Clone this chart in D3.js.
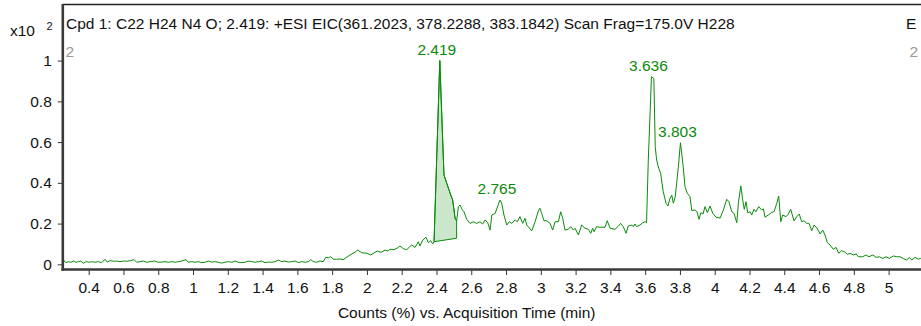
<!DOCTYPE html>
<html>
<head>
<meta charset="utf-8">
<script src="https://cdn.jsdelivr.net/npm/d3@7"></script>
<style>
  html, body { margin: 0; padding: 0; background: #fff; overflow: hidden; }
  svg { display: block; font-family: Arial, "Liberation Sans", sans-serif; }
</style>
</head>
<body>
<svg id="chart" width="921" height="326"></svg>
<script>
// Extracted ion chromatogram: retention time (min) and intensity (x10^2 counts %)
const retentionTime = [
  0.250, 0.258, 0.270, 0.283, 0.297, 0.312, 0.327, 0.340, 0.354, 0.369,
  0.385, 0.404, 0.417, 0.436, 0.455, 0.475, 0.494, 0.507, 0.523, 0.542,
  0.561, 0.580, 0.599, 0.619, 0.642, 0.661, 0.676, 0.695, 0.714, 0.734,
  0.753, 0.781, 0.800, 0.820, 0.839, 0.858, 0.878, 0.896, 0.915, 0.935,
  0.960, 0.973, 0.993, 1.012, 1.030, 1.050, 1.069, 1.088, 1.108, 1.127,
  1.145, 1.165, 1.184, 1.203, 1.223, 1.242, 1.260, 1.280, 1.299, 1.318,
  1.338, 1.357, 1.376, 1.395, 1.414, 1.433, 1.453, 1.472, 1.491, 1.510,
  1.529, 1.548, 1.568, 1.587, 1.606, 1.625, 1.644, 1.663, 1.677, 1.692,
  1.711, 1.730, 1.749, 1.763, 1.778, 1.792, 1.807, 1.826, 1.845, 1.864,
  1.903, 1.932, 1.947, 1.970, 1.999, 2.022, 2.041, 2.060, 2.081, 2.104,
  2.121, 2.133, 2.156, 2.173, 2.190, 2.209, 2.229, 2.245, 2.258, 2.277,
  2.296, 2.305, 2.321, 2.340, 2.353, 2.367, 2.378, 2.386, 2.419, 2.443,
  2.459, 2.482, 2.493, 2.507, 2.516, 2.526, 2.535, 2.549, 2.558, 2.574,
  2.593, 2.612, 2.631, 2.650, 2.666, 2.679, 2.695, 2.708, 2.718, 2.737,
  2.765, 2.775, 2.788, 2.804, 2.819, 2.833, 2.852, 2.865, 2.880, 2.896,
  2.909, 2.919, 2.948, 2.967, 2.986, 2.995, 3.005, 3.018, 3.034, 3.053,
  3.068, 3.082, 3.101, 3.114, 3.126, 3.139, 3.158, 3.172, 3.187, 3.197,
  3.216, 3.235, 3.254, 3.273, 3.287, 3.298, 3.306, 3.321, 3.340, 3.369,
  3.382, 3.398, 3.427, 3.446, 3.459, 3.474, 3.490, 3.503, 3.523, 3.532,
  3.542, 3.551, 3.570, 3.586, 3.601, 3.608, 3.618, 3.629, 3.636, 3.650,
  3.658, 3.666, 3.678, 3.689, 3.704, 3.720, 3.731, 3.743, 3.753, 3.762,
  3.773, 3.791, 3.803, 3.819, 3.829, 3.842, 3.858, 3.868, 3.887, 3.898,
  3.910, 3.920, 3.933, 3.944, 3.958, 3.973, 3.989, 4.008, 4.031, 4.050,
  4.069, 4.082, 4.098, 4.111, 4.127, 4.136, 4.150, 4.161, 4.170, 4.180,
  4.190, 4.203, 4.213, 4.226, 4.237, 4.253, 4.270, 4.280, 4.289, 4.308,
  4.328, 4.341, 4.357, 4.368, 4.380, 4.391, 4.410, 4.423, 4.437, 4.456,
  4.472, 4.486, 4.500, 4.513, 4.529, 4.542, 4.558, 4.571, 4.587, 4.606,
  4.621, 4.634, 4.648, 4.663, 4.682, 4.698, 4.713, 4.730, 4.749, 4.763,
  4.778, 4.797, 4.813, 4.826, 4.851, 4.870, 4.887, 4.909, 4.928, 4.947,
  4.966, 4.985, 5.004, 5.027, 5.047, 5.066, 5.084, 5.104, 5.119, 5.133,
  5.152, 5.171, 5.184, 5.200
];
const intensity = [
  0.000, 0.018, 0.008, 0.013, 0.010, 0.016, 0.010, 0.013, 0.016, 0.005,
  0.013, 0.010, 0.013, 0.010, 0.013, 0.008, 0.025, 0.011, 0.018, 0.015,
  0.016, 0.013, 0.016, 0.015, 0.018, 0.023, 0.010, 0.013, 0.016, 0.010,
  0.013, 0.016, 0.010, 0.011, 0.013, 0.010, 0.013, 0.010, 0.013, 0.016,
  0.023, 0.010, 0.013, 0.010, 0.013, 0.008, 0.010, 0.016, 0.011, 0.013,
  0.010, 0.006, 0.010, 0.013, 0.010, 0.016, 0.010, 0.008, 0.010, 0.016,
  0.013, 0.010, 0.013, 0.016, 0.008, 0.011, 0.010, 0.013, 0.021, 0.013,
  0.016, 0.011, 0.013, 0.016, 0.008, 0.013, 0.010, 0.013, 0.023, 0.013,
  0.010, 0.016, 0.013, 0.034, 0.032, 0.037, 0.025, 0.025, 0.026, 0.023,
  0.046, 0.060, 0.070, 0.057, 0.054, 0.046, 0.056, 0.065, 0.059, 0.070,
  0.065, 0.074, 0.072, 0.079, 0.090, 0.077, 0.072, 0.085, 0.095, 0.083,
  0.111, 0.090, 0.119, 0.133, 0.106, 0.116, 0.100, 0.111, 1.000, 0.439,
  0.398, 0.340, 0.316, 0.226, 0.213, 0.283, 0.291, 0.267, 0.258, 0.221,
  0.201, 0.209, 0.201, 0.209, 0.198, 0.218, 0.204, 0.168, 0.242, 0.250,
  0.315, 0.300, 0.242, 0.193, 0.209, 0.201, 0.218, 0.209, 0.234, 0.201,
  0.226, 0.193, 0.164, 0.209, 0.262, 0.275, 0.250, 0.214, 0.214, 0.201,
  0.168, 0.209, 0.209, 0.258, 0.226, 0.168, 0.172, 0.185, 0.168, 0.177,
  0.144, 0.193, 0.177, 0.172, 0.152, 0.177, 0.160, 0.185, 0.182, 0.182,
  0.214, 0.177, 0.172, 0.188, 0.201, 0.185, 0.152, 0.188, 0.193, 0.185,
  0.198, 0.185, 0.193, 0.204, 0.209, 0.204, 0.512, 0.758, 0.921, 0.912,
  0.578, 0.512, 0.472, 0.447, 0.357, 0.300, 0.286, 0.324, 0.340, 0.300,
  0.332, 0.479, 0.597, 0.479, 0.381, 0.349, 0.332, 0.263, 0.267, 0.258,
  0.221, 0.253, 0.247, 0.283, 0.253, 0.286, 0.250, 0.231, 0.227, 0.267,
  0.319, 0.307, 0.258, 0.250, 0.204, 0.300, 0.385, 0.316, 0.270, 0.307,
  0.253, 0.258, 0.242, 0.270, 0.258, 0.283, 0.267, 0.272, 0.231, 0.242,
  0.255, 0.258, 0.300, 0.335, 0.209, 0.242, 0.234, 0.246, 0.270, 0.213,
  0.234, 0.247, 0.209, 0.214, 0.201, 0.201, 0.165, 0.192, 0.180, 0.149,
  0.168, 0.144, 0.106, 0.095, 0.074, 0.083, 0.054, 0.067, 0.060, 0.049,
  0.054, 0.046, 0.051, 0.037, 0.037, 0.046, 0.037, 0.046, 0.034, 0.037,
  0.029, 0.037, 0.029, 0.041, 0.037, 0.037, 0.028, 0.021, 0.034, 0.021,
  0.034, 0.025, 0.029, 0.027
];

// Labelled peaks (retention time at apex)
const peakTimes = [2.419, 2.765, 3.636, 3.803];

// Integrated peak: start/end times and baseline intensities
const integrationTimes = [2.386, 2.516];
const integrationBase = [0.111, 0.128];

// Axis ticks
const xTicks = [0.4, 0.6, 0.8, 1, 1.2, 1.4, 1.6, 1.8, 2, 2.2, 2.4, 2.6, 2.8, 3, 3.2, 3.4, 3.6, 3.8, 4, 4.2, 4.4, 4.6, 4.8, 5];
const yTicks = [0, 0.2, 0.4, 0.6, 0.8, 1];

const titleText = "Cpd 1: C22 H24 N4 O; 2.419: +ESI EIC(361.2023, 378.2288, 383.1842) Scan Frag=175.0V H228";
const xAxisTitle = "Counts (%) vs. Acquisition Time (min)";

const points = retentionTime.map((t, i) => ({ t, v: intensity[i] }));

const svg = d3.select("#chart");
const W = 921, H = 326;
const plotLeft = 62.6, plotRight = 923.4, plotTop = 4, plotBottom = 269;

const x = d3.scaleLinear().domain([0.25, 5.2]).range([plotLeft, plotRight]);
const y = d3.scaleLinear().domain([-0.023, 1.278]).range([plotBottom, plotTop]);

const green = "#0b8a0b";
const fontSize = "15.5px";

svg.append("defs").append("clipPath").attr("id", "plotClip")
  .append("rect").attr("x", plotLeft).attr("y", plotTop)
  .attr("width", plotRight - plotLeft).attr("height", plotBottom - plotTop);

// Integrated area of the main peak
const inPeak = points.filter(d => d.t >= integrationTimes[0] && d.t <= integrationTimes[1]);
const poly = inPeak.concat([
  { t: integrationTimes[1], v: integrationBase[1] },
  { t: integrationTimes[0], v: integrationBase[0] }
]);
svg.append("path")
  .attr("clip-path", "url(#plotClip)")
  .attr("d", d3.line().x(d => x(d.t)).y(d => y(d.v))(poly) + "Z")
  .attr("fill", "rgba(20,140,20,0.22)")
  .attr("stroke", green)
  .attr("stroke-width", 1);

// Chromatogram trace
svg.append("path")
  .attr("clip-path", "url(#plotClip)")
  .attr("d", d3.line().x(d => x(d.t)).y(d => y(d.v))(points))
  .attr("fill", "none")
  .attr("stroke", green)
  .attr("stroke-width", 1)
  .attr("stroke-linejoin", "round");

// Frame: thin top border, heavy left and bottom axes
svg.append("line")
  .attr("x1", plotLeft).attr("x2", W).attr("y1", plotTop + 0.5).attr("y2", plotTop + 0.5)
  .attr("stroke", "#222").attr("stroke-width", 1.3);

// X axis
const xAxis = svg.append("g")
  .attr("transform", `translate(0,${plotBottom + 0.5})`)
  .call(d3.axisBottom(x).tickValues(xTicks).tickSize(5.5).tickPadding(7).tickFormat(d3.format("~g")));
xAxis.select(".domain").remove();
xAxis.selectAll(".tick line").attr("stroke", "#333");
xAxis.selectAll(".tick text").attr("fill", "#111").style("font-size", fontSize)
  .style("font-family", "Arial, 'Liberation Sans', sans-serif");

// Y axis
const yAxis = svg.append("g")
  .attr("transform", `translate(${plotLeft + 0.2},0)`)
  .call(d3.axisLeft(y).tickValues(yTicks).tickSize(5).tickPadding(6).tickFormat(d3.format("~g")));
yAxis.select(".domain").remove();
yAxis.selectAll(".tick line").attr("stroke", "#333");
yAxis.selectAll(".tick text").attr("fill", "#111").style("font-size", fontSize)
  .style("font-family", "Arial, 'Liberation Sans', sans-serif");

svg.append("line")
  .attr("x1", plotLeft + 0.2).attr("x2", plotLeft + 0.2).attr("y1", plotTop).attr("y2", plotBottom + 1.8)
  .attr("stroke", "#3a3a3a").attr("stroke-width", 2.6);
svg.append("line")
  .attr("x1", plotLeft - 1.1).attr("x2", W).attr("y1", plotBottom + 0.5).attr("y2", plotBottom + 0.5)
  .attr("stroke", "#3a3a3a").attr("stroke-width", 2.6);

// Scale multiplier
svg.append("text").attr("x", 10).attr("y", 35.5)
  .style("font-size", fontSize).attr("fill", "#111").text("x10");
svg.append("text").attr("x", 46.5).attr("y", 30)
  .style("font-size", "11px").attr("fill", "#111").text("2");

// Title line
svg.append("text").attr("x", 66).attr("y", 29.3)
  .style("font-size", fontSize).attr("fill", "#111").text(titleText);
svg.append("text").attr("x", 906).attr("y", 29.3)
  .style("font-size", fontSize).attr("fill", "#111").text("E");

// Panel number markers
svg.append("text").attr("x", 65.5).attr("y", 57.3)
  .style("font-size", fontSize).attr("fill", "#999").text("2");
svg.append("text").attr("x", 909.5).attr("y", 56.7)
  .style("font-size", fontSize).attr("fill", "#999").text("2");

// Peak apex labels
const apex = peakTimes.map(t => points.find(d => Math.abs(d.t - t) < 1e-9));
svg.selectAll("text.peak").data(apex).join("text")
  .attr("class", "peak")
  .attr("x", d => x(d.t) - 3)
  .attr("y", d => y(d.v) - 6)
  .attr("text-anchor", "middle")
  .style("font-size", fontSize)
  .attr("fill", green)
  .text(d => d3.format(".3f")(d.t));

// X axis title
svg.append("text").attr("x", 466.7).attr("y", 318)
  .attr("text-anchor", "middle")
  .style("font-size", fontSize).attr("fill", "#111").text(xAxisTitle);
</script>
</body>
</html>
